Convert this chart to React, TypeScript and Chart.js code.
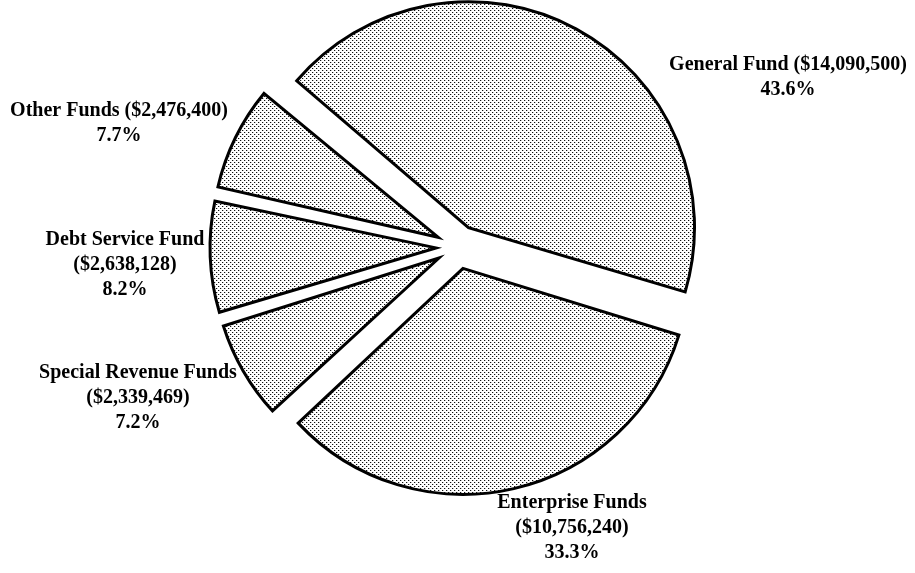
import React, { useEffect, useRef } from "react";
import { Chart, registerables } from "chart.js";

Chart.register(...registerables);

// ---- data ----
const categories = [
  "General Fund",
  "Enterprise Funds",
  "Special Revenue Funds",
  "Debt Service Fund",
  "Other Funds",
];
const amounts = [14090500, 10756240, 2339469, 2638128, 2476400];
const amountLabels = [
  "($14,090,500)",
  "($10,756,240)",
  "($2,339,469)",
  "($2,638,128)",
  "($2,476,400)",
];
const percentLabels = ["43.6%", "33.3%", "7.2%", "8.2%", "7.7%"];
// whether the amount shares the first line with the category name
const amountInline = [true, false, false, false, true];

// ---- layout (not data) ----
const W = 915;
const H = 573;
const RADIUS = 226;
const EXPLODE = 22; // px each slice is pulled out
const LABEL_FONT = "bold 20px 'Liberation Serif', 'Times New Roman', serif";
const LABEL_LINE = 25;
// centre x and first-line centre y of each label
const labelAnchors = [
  { x: 788, y: 65 },
  { x: 572, y: 503 },
  { x: 138, y: 373 },
  { x: 125, y: 240 },
  { x: 119, y: 111 },
];

function labelLines(i: number): string[] {
  if (amountInline[i]) return [categories[i] + " " + amountLabels[i], percentLabels[i]];
  return [categories[i], amountLabels[i], percentLabels[i]];
}

function makePattern(ctx: CanvasRenderingContext2D): CanvasPattern {
  const tile = document.createElement("canvas");
  tile.width = 4;
  tile.height = 4;
  const t = tile.getContext("2d")!;
  t.fillStyle = "#ffffff";
  t.fillRect(0, 0, 4, 4);
  t.fillStyle = "#c4c4c4";
  t.fillRect(1, 0, 1, 1);
  t.fillRect(3, 2, 1, 1);
  t.fillStyle = "#111111";
  t.fillRect(0, 0, 1, 1);
  t.fillRect(2, 2, 1, 1);
  return ctx.createPattern(tile, "repeat")!;
}

export default function App() {
  const ref = useRef<HTMLCanvasElement | null>(null);

  useEffect(() => {
    const canvas = ref.current;
    if (!canvas) return;
    const ctx = canvas.getContext("2d")!;
    const patterns = categories.map(() => makePattern(ctx));

    const slicePrep = {
      id: "slicePrep",
      beforeDatasetsDraw(chart: any) {
        const meta = chart.getDatasetMeta(0);
        meta.data.forEach((arc: any, i: number) => {
          const circ = arc.endAngle - arc.startAngle;
          const fix = 1 - Math.sin(Math.min(Math.PI, circ));
          // keep every slice at the same drawn radius despite the explode offset
          arc.outerRadius = RADIUS - EXPLODE * fix;
          // align the stipple pattern with the pixel grid after the slice shift
          const half = (arc.startAngle + arc.endAngle) / 2;
          const tx = Math.cos(half) * EXPLODE;
          const ty = Math.sin(half) * EXPLODE;
          const p: any = patterns[i];
          if (p.setTransform) p.setTransform(new DOMMatrix([1, 0, 0, 1, -tx, -ty]));
        });
      },
    };

    const labelPlugin = {
      id: "sliceLabels",
      afterDraw(chart: any) {
        const c = chart.ctx as CanvasRenderingContext2D;
        c.save();
        c.font = LABEL_FONT;
        c.fillStyle = "#000";
        c.textAlign = "center";
        c.textBaseline = "middle";
        categories.forEach((_, i) => {
          const a = labelAnchors[i];
          labelLines(i).forEach((txt, k) => {
            c.fillText(txt, a.x, a.y + k * LABEL_LINE);
          });
        });
        c.restore();
      },
    };

    const chart = new Chart(canvas, {
      type: "pie",
      data: {
        labels: categories,
        datasets: [
          {
            data: amounts,
            backgroundColor: patterns as any,
            borderColor: "#000000",
            borderWidth: 3,
            borderJoinStyle: "miter",
            offset: EXPLODE * 4,
          } as any,
        ],
      },
      options: {
        animation: false,
        responsive: false,
        events: [],
        rotation: -50,
        radius: RADIUS,
        layout: { padding: { left: 1, right: 0, top: 0, bottom: 79 } },
        plugins: {
          legend: { display: false },
          tooltip: { enabled: false },
        },
      } as any,
      plugins: [slicePrep, labelPlugin],
    });
    return () => chart.destroy();
  }, []);

  return (
    <div style={{ position: "absolute", left: 0, top: 0, width: W, height: H, background: "#fff" }}>
      <canvas ref={ref} width={W} height={H} style={{ width: W, height: H, display: "block" }} />
    </div>
  );
}
